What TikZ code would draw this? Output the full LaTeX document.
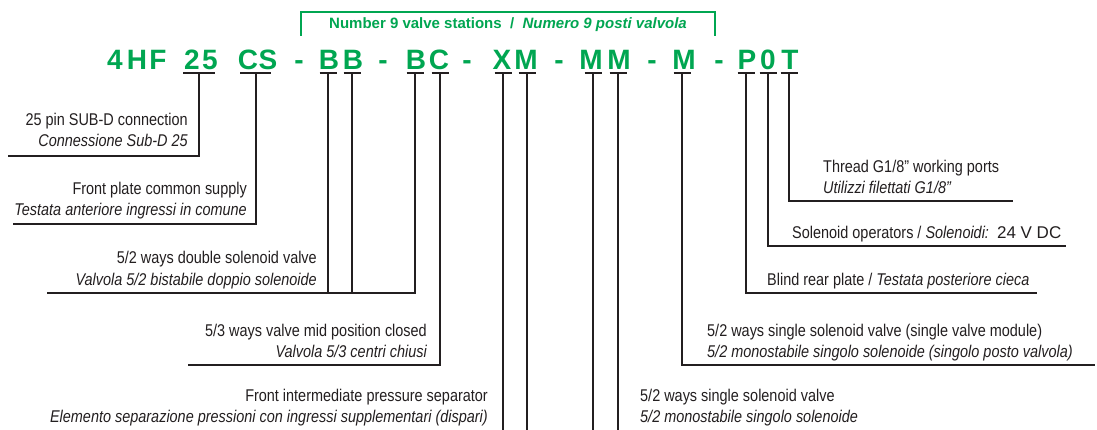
\documentclass[tikz,border=0pt]{standalone}
\usepackage{fontspec}
\setmainfont{Liberation Sans}[FakeStretch=0.85, ItalicFeatures={FakeStretch=0.85}]
\newfontfamily\codefont{Liberation Sans}
\newfontfamily\plainfont{Liberation Sans}
\definecolor{codegreen}{RGB}{0,166,81}
\definecolor{ink}{RGB}{35,31,32}
\tikzset{
  code/.style={font=\codefont\bfseries\fontsize{28}{28}\selectfont, text=codegreen, anchor=base, inner sep=0pt},
  lbl/.style={font=\fontsize{17}{20}\selectfont, text=ink, inner sep=0pt},
  lblR/.style={lbl, anchor=base east},
  lblL/.style={lbl, anchor=base west},
  wire/.style={draw=ink, line width=1.2pt},
  tbar/.style={draw=ink, line width=1.2pt},
  bracket/.style={draw=codegreen, line width=1.3pt},
  brtext/.style={font=\codefont\bfseries\fontsize{15}{15}\selectfont, text=codegreen, anchor=base, inner sep=0pt}
}
\begin{document}
\begin{tikzpicture}[x=1pt,y=-1pt]
\useasboundingbox (0,0) rectangle (1097,430);
\fill[white] (0,0) rectangle (1097,430);

% code letters
\node[code] (c4) at (115,69.5) {4};
\node[code] (cH) at (137,69.5) {H};
\node[code] (cF) at (158,69.5) {F};
\node[code] (c2) at (192,69.5) {2};
\node[code] (c5) at (210,69.5) {5};
\node[code] (cC1) at (248,69.5) {C};
\node[code] (cS) at (268,69.5) {S};
\node[code] (d1) at (299,69.5) {-};
\node[code] (cB1) at (329,69.5) {B};
\node[code] (cB2) at (353,69.5) {B};
\node[code] (d2) at (383,69.5) {-};
\node[code] (cB3) at (416,69.5) {B};
\node[code] (cC2) at (439,69.5) {C};
\node[code] (d3) at (467,69.5) {-};
\node[code] (cX) at (502,69.5) {X};
\node[code] (cM1) at (526,69.5) {M};
\node[code] (d4) at (559,69.5) {-};
\node[code] (cM2) at (591,69.5) {M};
\node[code] (cM3) at (619,69.5) {M};
\node[code] (d5) at (652,69.5) {-};
\node[code] (cM4) at (684,69.5) {M};
\node[code] (d6) at (719,69.5) {-};
\node[code] (cP) at (747,69.5) {P};
\node[code] (c0) at (768,69.5) {0};
\node[code] (cT) at (790,69.5) {T};

% bracket
\coordinate (bl) at (301,36);
\coordinate (blt) at (301,12);
\coordinate (brt) at (715,12);
\coordinate (br) at (715,36);
\draw[bracket] (bl) -- (blt) -- (brt) -- (br);
\node[brtext] (brlabel) at (508,28.5) {Number 9 valve stations\ \ /\ \ \textit{Numero 9 posti valvola}};

% stem tops
\coordinate (s25) at (199,73);
\coordinate (sCS) at (256,73);
\coordinate (sB1) at (328,73);
\coordinate (sB2) at (352,73);
\coordinate (sB3) at (415,73);
\coordinate (sC2) at (440,73);
\coordinate (sX) at (503,73);
\coordinate (sM1) at (527,73);
\coordinate (sM2) at (593,73);
\coordinate (sM3) at (618,73);
\coordinate (sM4) at (682,73);
\coordinate (sP) at (746,73);
\coordinate (s0) at (768,73);
\coordinate (sT) at (789,73);

% underbars
\draw[tbar] ([xshift=-16pt]s25) -- ([xshift=16pt]s25);
\draw[tbar] ([xshift=-16pt]sCS) -- ([xshift=15pt]sCS);
\foreach \s in {sB1,sB2,sB3,sC2,sX,sM1,sM2,sM3,sM4,sP,s0,sT}
  \draw[tbar] ([xshift=-8.5pt]\s) -- ([xshift=8.5pt]\s);

% line ends
\coordinate (e1) at (8,156);
\coordinate (e2) at (13,224);
\coordinate (e3) at (47,293);
\coordinate (e4) at (188,365);
\coordinate (bot) at (0,431);
\coordinate (e7) at (1095,365);
\coordinate (e8) at (1037,293);
\coordinate (e9) at (1066,246);
\coordinate (e10) at (1013,201);

\draw[wire] (s25) |- (e1);
\draw[wire] (sCS) |- (e2);
\draw[wire] (sB3) |- (e3);
\draw[wire] (sB1) -- (sB1 |- e3);
\draw[wire] (sB2) -- (sB2 |- e3);
\draw[wire] (sC2) |- (e4);
\draw[wire] (sX) -- (sX |- bot);
\draw[wire] (sM1) -- (sM1 |- bot);
\draw[wire] (sM2) -- (sM2 |- bot);
\draw[wire] (sM3) -- (sM3 |- bot);
\draw[wire] (sM4) |- (e7);
\draw[wire] (sP) |- (e8);
\draw[wire] (s0) |- (e9);
\draw[wire] (sT) |- (e10);

% labels
\node[lblR] (t1a) at (188,126) {25 pin SUB-D connection};
\node[lblR] (t1b) at (188,147) {\itshape Connessione Sub-D 25};
\node[lblR] (t2a) at (247,195) {Front plate common supply};
\node[lblR] (t2b) at (247,216) {\itshape Testata anteriore ingressi in comune};
\node[lblR] (t3a) at (317,264) {5/2 ways double solenoid valve};
\node[lblR] (t3b) at (317,285) {\itshape Valvola 5/2 bistabile doppio solenoide};
\node[lblR] (t4a) at (427,336) {5/3 ways valve mid position closed};
\node[lblR] (t4b) at (427,357) {\itshape Valvola 5/3 centri chiusi};
\node[lblR] (t5a) at (488,401.5) {Front intermediate pressure separator};
\node[lblR] (t5b) at (488,422.5) {\itshape Elemento separazione pressioni con ingressi supplementari (dispari)};
\node[lblL] (t6a) at (640,401.5) {5/2 ways single solenoid valve};
\node[lblL] (t6b) at (640,422.5) {\itshape 5/2 monostabile singolo solenoide};
\node[lblL] (t7a) at (707,336) {5/2 ways single solenoid valve (single valve module)};
\node[lblL] (t7b) at (707,357) {\itshape 5/2 monostabile singolo solenoide (singolo posto valvola)};
\node[lblL] (t8) at (767,286) {Blind rear plate / \textit{Testata posteriore cieca}};
\node[lblL] (t9) at (792,239) {Solenoid operators / \textit{Solenoidi:}\ \ {\plainfont 24 V DC}};
\node[lblL] (t10a) at (823,173) {Thread G1/8” working ports};
\node[lblL] (t10b) at (823,194) {\itshape Utilizzi filettati G1/8”};
\end{tikzpicture}
\end{document}
